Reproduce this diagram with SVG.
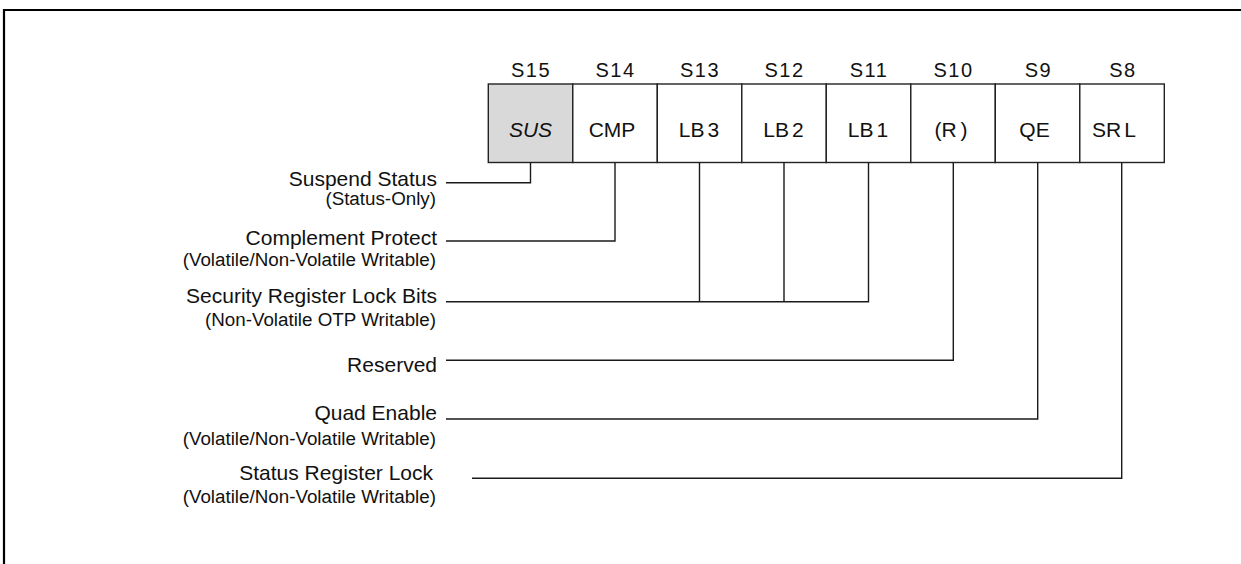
<svg xmlns="http://www.w3.org/2000/svg" width="1241" height="564" viewBox="0 0 1241 564">
<style>
text{font-family:"Liberation Sans",Arial,sans-serif;fill:#111}
.bit{font-size:20px;text-anchor:middle;letter-spacing:1.5px}
.cell{fill:#fff;stroke:#222;stroke-width:1.4}
.in{font-size:21px;text-anchor:middle}
.lbl{font-size:21px;text-anchor:end}
.sub{font-size:18.8px;text-anchor:end}
.con{fill:none;stroke:#1a1a1a;stroke-width:1.4}
</style>
<rect width="1241" height="564" fill="#fff"/>
<path d="M4,564 V10 H1241" fill="none" stroke="#000" stroke-width="2.2"/>
<g id="bit-S15"><text class="bit" x="531" y="77">S15</text><rect class="cell" x="488.3" y="84" width="84.5" height="78.5" style="fill:#d9d9d9"/><text class="in" x="530.5" y="137" font-style="italic">SUS</text></g>
<g id="bit-S14"><text class="bit" x="615.5" y="77">S14</text><rect class="cell" x="572.8" y="84" width="84.5" height="78.5"/><text class="in" x="612" y="137">CMP</text></g>
<g id="bit-S13"><text class="bit" x="700" y="77">S13</text><rect class="cell" x="657.3" y="84" width="84.5" height="78.5"/><text class="in" x="699" y="137">LB<tspan dx="3">3</tspan></text></g>
<g id="bit-S12"><text class="bit" x="784.5" y="77">S12</text><rect class="cell" x="741.8" y="84" width="84.5" height="78.5"/><text class="in" x="783.5" y="137">LB<tspan dx="3">2</tspan></text></g>
<g id="bit-S11"><text class="bit" x="869" y="77">S11</text><rect class="cell" x="826.3" y="84" width="84.5" height="78.5"/><text class="in" x="868" y="137">LB<tspan dx="3">1</tspan></text></g>
<g id="bit-S10"><text class="bit" x="953.5" y="77">S10</text><rect class="cell" x="910.8" y="84" width="84.5" height="78.5"/><text class="in" x="951" y="137">(R<tspan dx="4">)</tspan></text></g>
<g id="bit-S9"><text class="bit" x="1038.5" y="77">S9</text><rect class="cell" x="995.3" y="84" width="84.5" height="78.5"/><text class="in" x="1034.5" y="137">QE</text></g>
<g id="bit-S8"><text class="bit" x="1123" y="77">S8</text><rect class="cell" x="1079.8" y="84" width="84.5" height="78.5"/><text class="in" x="1114" y="137">SR<tspan dx="3">L</tspan></text></g>
<g id="label-sus"><text class="lbl" x="437" y="186">Suspend Status</text><text class="sub" x="436" y="205">(Status-Only)</text></g>
<g id="label-cmp"><text class="lbl" x="437" y="245">Complement Protect</text><text class="sub" x="436" y="266">(Volatile/Non-Volatile Writable)</text></g>
<g id="label-lb"><text class="lbl" x="437" y="303">Security Register Lock Bits</text><text class="sub" x="436" y="326">(Non-Volatile OTP Writable)</text></g>
<g id="label-r"><text class="lbl" x="437" y="372">Reserved</text></g>
<g id="label-qe"><text class="lbl" x="437" y="420">Quad Enable</text><text class="sub" x="436" y="445">(Volatile/Non-Volatile Writable)</text></g>
<g id="label-srl"><text class="lbl" x="433" y="480">Status Register Lock</text><text class="sub" x="436" y="503">(Volatile/Non-Volatile Writable)</text></g>
<g id="connectors">
<path class="con" d="M446,182.7 H530.5 V162.5"/>
<path class="con" d="M446,241 H615 V162.5"/>
<path class="con" d="M446,301.7 H868.5 V162.5 M699.5,301.7 V162.5 M784,301.7 V162.5"/>
<path class="con" d="M446,360.3 H953.3 V162.5"/>
<path class="con" d="M446,419 H1037.7 V162.5"/>
<path class="con" d="M472,478.3 H1121.7 V162.5"/>
</g>
</svg>
